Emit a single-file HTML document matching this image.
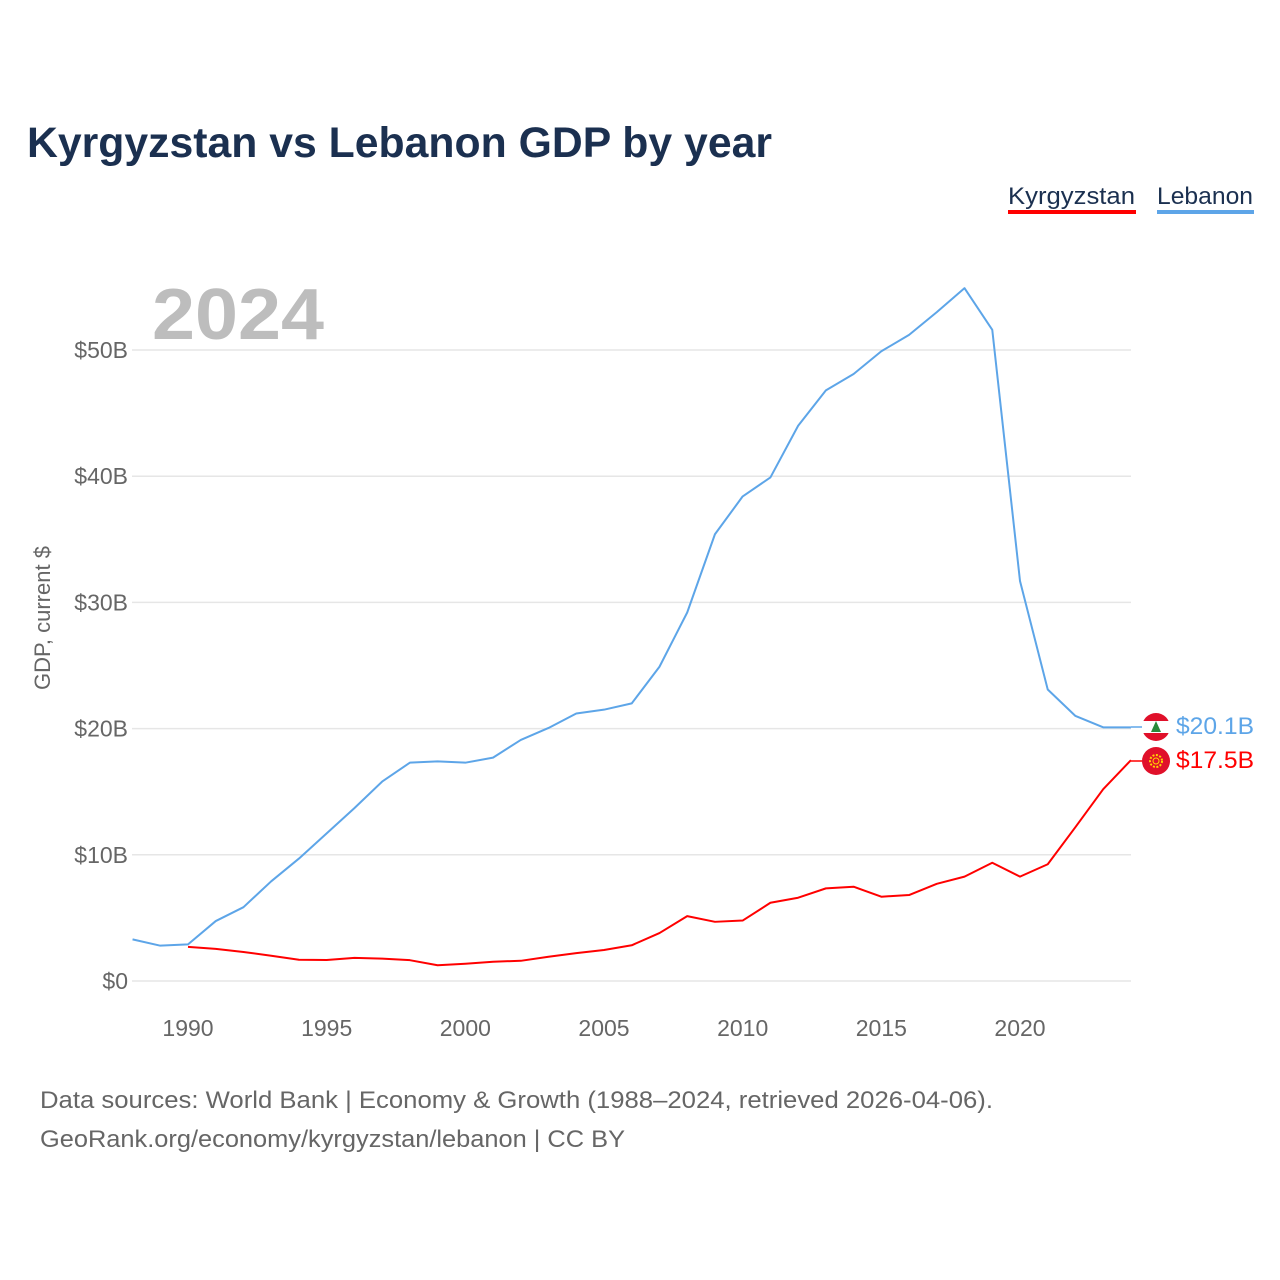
<!DOCTYPE html>
<html><head><meta charset="utf-8"><style>
body{margin:0;background:#fff;font-family:"Liberation Sans",sans-serif}
svg{display:block}
</style></head><body>
<svg width="1280" height="1280" xmlns="http://www.w3.org/2000/svg">
<defs><clipPath id="lbclip"><circle cx="1156" cy="727" r="14"/></clipPath></defs>
<text x="27" y="157" font-size="43" font-weight="bold" fill="#1b3050" textLength="745" lengthAdjust="spacingAndGlyphs">Kyrgyzstan vs Lebanon GDP by year</text>
<g>
<text x="1008" y="204" font-size="24" fill="#1b3050" textLength="127" lengthAdjust="spacingAndGlyphs">Kyrgyzstan</text>
<rect x="1008" y="210" width="128" height="4" fill="#ff0000"/>
<text x="1157" y="204" font-size="24" fill="#1b3050" textLength="96" lengthAdjust="spacingAndGlyphs">Lebanon</text>
<rect x="1157" y="210" width="97" height="4" fill="#5da5e8"/>
</g>
<text x="152" y="339" font-size="72" font-weight="bold" fill="#bdbdbd" textLength="172" lengthAdjust="spacingAndGlyphs">2024</text>
<g id="grid"></g><g id="yt"></g><g id="xt"></g>
<text transform="translate(50,618) rotate(-90)" text-anchor="middle" font-size="22" fill="#666">GDP, current $</text>
<g id="lines"></g>
<line x1="1131" y1="727" x2="1142" y2="727" stroke="#5da5e8" stroke-width="1.5"/>
<line x1="1131" y1="761" x2="1142" y2="761" stroke="#ff0000" stroke-width="1.5"/>
<g>
<g clip-path="url(#lbclip)">
<rect x="1142" y="713" width="28" height="28" fill="#fff"/>
<rect x="1142" y="713" width="28" height="8" fill="#e0102a"/><rect x="1142" y="733" width="28" height="8" fill="#e0102a"/>
<polygon points="1156,721 1151,732 1161,732" fill="#2a8a3a"/>
</g>
<circle cx="1156" cy="761" r="14" fill="#e0102a"/>
<circle cx="1156" cy="761" r="6" fill="none" stroke="#ffd400" stroke-width="2" stroke-dasharray="2 1.5"/>
<circle cx="1156" cy="761" r="3" fill="none" stroke="#ffd400" stroke-width="1"/>
<text x="1176" y="734" font-size="24" fill="#5da5e8" textLength="78" lengthAdjust="spacingAndGlyphs">$20.1B</text>
<text x="1176" y="768" font-size="24" fill="#ff0000" textLength="78" lengthAdjust="spacingAndGlyphs">$17.5B</text>
</g>
<text x="40" y="1108" font-size="24" fill="#666" textLength="953" lengthAdjust="spacingAndGlyphs">Data sources: World Bank | Economy &amp; Growth (1988–2024, retrieved 2026-04-06).</text>
<text x="40" y="1147" font-size="24" fill="#666" textLength="585" lengthAdjust="spacingAndGlyphs">GeoRank.org/economy/kyrgyzstan/lebanon | CC BY</text>
</svg>
<script>
const lebanonYears=[1988,1989,1990,1991,1992,1993,1994,1995,1996,1997,1998,1999,2000,2001,2002,2003,2004,2005,2006,2007,2008,2009,2010,2011,2012,2013,2014,2015,2016,2017,2018,2019,2020,2021,2022,2023,2024];
const lebanonValues=[3.3,2.8,2.9,4.75,5.85,7.9,9.7,11.7,13.7,15.8,17.3,17.4,17.3,17.7,19.1,20.05,21.2,21.5,22.0,24.9,29.2,35.4,38.4,39.9,44.0,46.8,48.1,49.9,51.2,53.0,54.9,51.6,31.7,23.1,21.0,20.1,20.1];
const kyrgyzYears=[1990,1991,1992,1993,1994,1995,1996,1997,1998,1999,2000,2001,2002,2003,2004,2005,2006,2007,2008,2009,2010,2011,2012,2013,2014,2015,2016,2017,2018,2019,2020,2021,2022,2023,2024];
const kyrgyzValues=[2.7,2.55,2.3,2.0,1.68,1.66,1.83,1.77,1.65,1.25,1.37,1.53,1.6,1.92,2.21,2.46,2.83,3.8,5.14,4.69,4.79,6.2,6.6,7.34,7.47,6.68,6.81,7.7,8.27,9.37,8.27,9.25,12.2,15.2,17.5];
const yTicks=[0,10,20,30,40,50];
const yTickLabels=["$0","$10B","$20B","$30B","$40B","$50B"];
const xTicks=[1990,1995,2000,2005,2010,2015,2020];
const NS="http://www.w3.org/2000/svg";
const x=yr=>188+(yr-1990)*(1020-188)/30;
const y=v=>981-v*(981-350)/50;
function mk(tag,attrs,parent){const e=document.createElementNS(NS,tag);for(const k in attrs)e.setAttribute(k,attrs[k]);parent.appendChild(e);return e;}
const grid=document.getElementById('grid'),yt=document.getElementById('yt'),xt=document.getElementById('xt'),lines=document.getElementById('lines');
yTicks.forEach((v,i)=>{
 const l=mk('line',{x1:132,x2:1131,y1:y(v),y2:y(v),stroke:'#e6e6e6','stroke-width':1.5},grid);
 
 
 const t=mk('text',{x:128,y:y(v)+8,'text-anchor':'end','font-size':23,fill:'#666'},yt);
 t.textContent=yTickLabels[i];
 
 
});
xTicks.forEach(yr=>{
 const t=mk('text',{x:x(yr),y:1036,'text-anchor':'middle','font-size':23,fill:'#666'},xt);
 t.textContent=yr;
 
 
});
function line(years,vals,color,name){
 const d=years.map((yr,i)=>(i?'L':'M')+x(yr)+','+y(vals[i])).join('');
 const p=mk('path',{d:d,fill:'none',stroke:color,'stroke-width':2,'stroke-linejoin':'round'},lines);
 
 
}
line(lebanonYears,lebanonValues,'#5da5e8','lebanon-line');
line(kyrgyzYears,kyrgyzValues,'#ff0000','kyrgyzstan-line');
</script>
</body></html>
